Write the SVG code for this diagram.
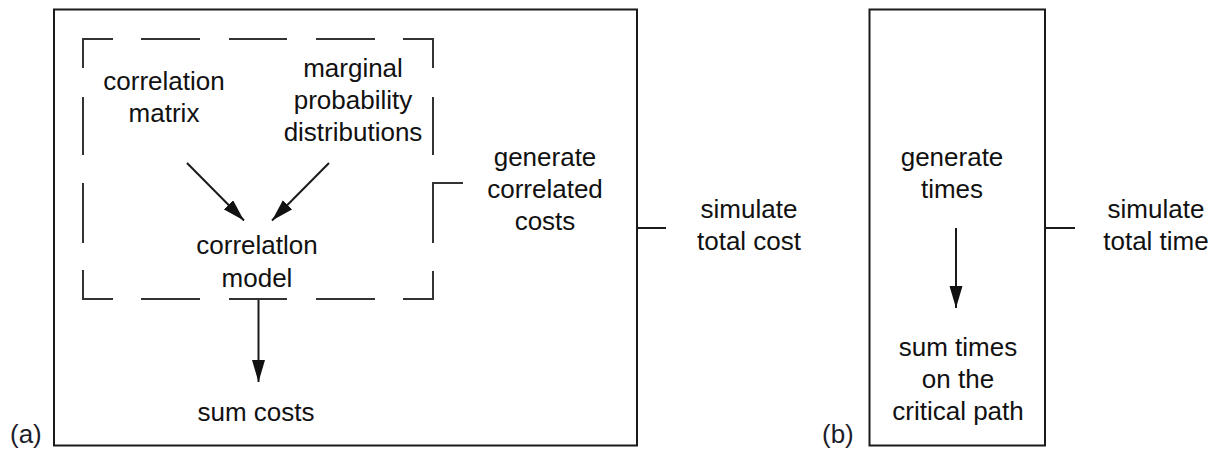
<svg xmlns="http://www.w3.org/2000/svg" width="1219" height="451" viewBox="0 0 1219 451">
<style>
.box{fill:none;stroke:#1a1a1a;stroke-width:2}
.dash{fill:none;stroke:#333;stroke-width:2}
.ln{fill:none;stroke:#1a1a1a;stroke-width:2}
.t{font-family:"Liberation Sans",Arial,sans-serif;font-size:26px;fill:#111;text-anchor:middle}
.lbl{font-family:"Liberation Sans",Arial,sans-serif;font-size:26px;fill:#1d1d2a}
</style>
<defs>
<marker id="ah" markerUnits="userSpaceOnUse" markerWidth="23" markerHeight="14" refX="22" refY="6.5" orient="auto">
<path d="M0,0 L22,6.5 L0,13 Z" fill="#111"/>
</marker>
</defs>
<rect width="1219" height="451" fill="#fff"/>

<g id="panel-a">
<rect class="box" x="54" y="9.5" width="583" height="436"/>
<text class="lbl" x="10" y="443">(a)</text>
</g>

<g id="correlation-group">
<path class="dash" d="M83,68 V39 H113 M141,39 H200 M229,39 H287 M316,39 H375 M403,39 H433 V68 M433,97 V155 M83,97 V155 M83,183 V243 M83,270 V299 H113 M141,299 H200 M229,299 H287 M316,299 H375 M403,299 H433 V271 M463,183 H433 V243"/>
</g>

<g id="correlation-matrix">
<text class="t" x="164" y="90">correlation</text>
<text class="t" x="164" y="122">matrix</text>
</g>

<g id="marginal-distributions">
<text class="t" x="353" y="77">marginal</text>
<text class="t" x="353" y="109">probability</text>
<text class="t" x="353" y="141">distributions</text>
</g>

<g id="correlation-model">
<text class="t" x="257" y="254">correlatlon</text>
<text class="t" x="257" y="287">model</text>
</g>

<g id="sum-costs">
<text class="t" x="256" y="421">sum costs</text>
</g>

<g id="generate-correlated-costs">
<text class="t" x="545" y="166">generate</text>
<text class="t" x="545" y="198">correlated</text>
<text class="t" x="545" y="230">costs</text>
</g>

<g id="simulate-total-cost">
<text class="t" x="749" y="218">simulate</text>
<text class="t" x="749" y="250">total cost</text>
</g>

<g id="panel-b">
<rect class="box" x="869.5" y="9.5" width="175.5" height="436"/>
<text class="lbl" x="822" y="443">(b)</text>
</g>

<g id="generate-times">
<text class="t" x="952" y="166">generate</text>
<text class="t" x="952" y="198">times</text>
</g>

<g id="sum-times">
<text class="t" x="958" y="356">sum times</text>
<text class="t" x="958" y="388">on the</text>
<text class="t" x="958" y="420">critical path</text>
</g>

<g id="simulate-total-time">
<text class="t" x="1156" y="218">simulate</text>
<text class="t" x="1156" y="250">total time</text>
</g>

<g id="connectors">
<line class="ln" x1="187" y1="163" x2="244" y2="220.5" marker-end="url(#ah)"/>
<line class="ln" x1="329" y1="163" x2="272" y2="220.5" marker-end="url(#ah)"/>
<line class="ln" x1="258.5" y1="300" x2="258.5" y2="382" marker-end="url(#ah)"/>
<line class="ln" x1="956" y1="228" x2="956" y2="308" marker-end="url(#ah)"/>
<line class="ln" x1="637" y1="228" x2="666" y2="228"/>
<line class="ln" x1="1045" y1="228" x2="1075" y2="228"/>
</g>
</svg>
